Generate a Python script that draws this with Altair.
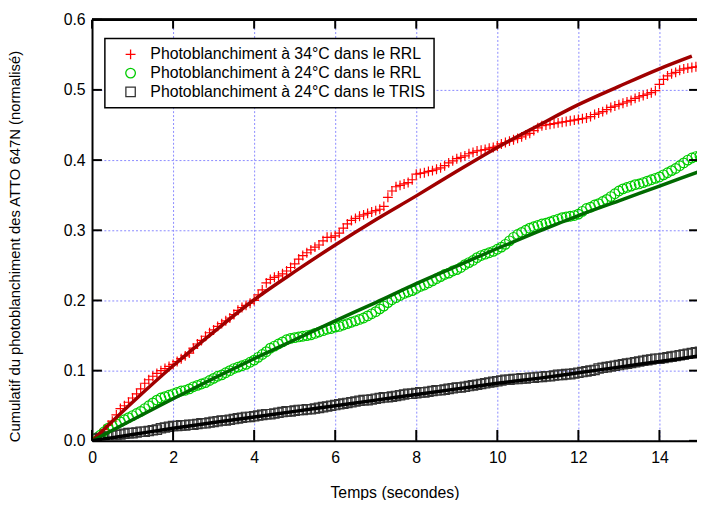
import altair as alt
import pandas as pd

FONT = "Liberation Sans"

SERIES = [
    "Photoblanchiment à 34°C dans le RRL",
    "Photoblanchiment à 24°C dans le RRL",
    "Photoblanchiment à 24°C dans le TRIS",
]

# sampling times of the measured points (s)
t_vals = [round(i * 0.1, 1) for i in range(151)]

red_vals = [
    0.000, 0.005, 0.010, 0.016, 0.022, 0.028, 0.037, 0.046, 0.050, 0.055,
    0.061, 0.067, 0.074, 0.082, 0.087, 0.092, 0.096, 0.100, 0.103, 0.106,
    0.109, 0.113, 0.117, 0.121, 0.125, 0.132, 0.138, 0.143, 0.149, 0.154,
    0.158, 0.163, 0.167, 0.171, 0.175, 0.180, 0.186, 0.190, 0.193, 0.196,
    0.200, 0.208, 0.215, 0.225, 0.230, 0.233, 0.235, 0.238, 0.242, 0.247,
    0.252, 0.259, 0.264, 0.268, 0.272, 0.276, 0.279, 0.285, 0.290, 0.290,
    0.292, 0.296, 0.303, 0.309, 0.314, 0.317, 0.320, 0.322, 0.324, 0.326,
    0.328, 0.330, 0.334, 0.347, 0.356, 0.362, 0.364, 0.366, 0.368, 0.372,
    0.380, 0.381, 0.382, 0.384, 0.385, 0.387, 0.389, 0.392, 0.396, 0.399,
    0.402, 0.404, 0.406, 0.409, 0.411, 0.413, 0.414, 0.415, 0.417, 0.418,
    0.420, 0.423, 0.425, 0.427, 0.429, 0.431, 0.433, 0.436, 0.438, 0.442,
    0.446, 0.449, 0.450, 0.451, 0.452, 0.453, 0.454, 0.455, 0.456, 0.457,
    0.458, 0.459, 0.460, 0.462, 0.465, 0.467, 0.469, 0.472, 0.475, 0.477,
    0.479, 0.481, 0.483, 0.485, 0.488, 0.490, 0.492, 0.494, 0.496, 0.499,
    0.508, 0.515, 0.520, 0.523, 0.525, 0.528, 0.530, 0.531, 0.532, 0.533,
    0.534,
]

green_vals = [
    0.000, 0.004, 0.008, 0.013, 0.018, 0.021, 0.024, 0.027, 0.030, 0.033,
    0.036, 0.039, 0.042, 0.046, 0.050, 0.054, 0.058, 0.061, 0.063, 0.065,
    0.067, 0.069, 0.071, 0.072, 0.074, 0.077, 0.079, 0.081, 0.083, 0.086,
    0.089, 0.092, 0.094, 0.097, 0.100, 0.103, 0.105, 0.107, 0.109, 0.112,
    0.115, 0.119, 0.123, 0.127, 0.132, 0.135, 0.138, 0.141, 0.144, 0.146,
    0.147, 0.148, 0.149, 0.150, 0.151, 0.153, 0.155, 0.157, 0.159, 0.160,
    0.162, 0.163, 0.165, 0.167, 0.169, 0.171, 0.173, 0.175, 0.178, 0.181,
    0.184, 0.188, 0.192, 0.197, 0.201, 0.204, 0.207, 0.210, 0.212, 0.214,
    0.217, 0.220, 0.222, 0.225, 0.228, 0.231, 0.234, 0.237, 0.239, 0.242,
    0.244, 0.247, 0.251, 0.254, 0.257, 0.261, 0.264, 0.266, 0.268, 0.270,
    0.273, 0.276, 0.280, 0.285, 0.290, 0.294, 0.297, 0.300, 0.303, 0.305,
    0.307, 0.309, 0.310, 0.312, 0.314, 0.316, 0.318, 0.319, 0.320, 0.321,
    0.323, 0.327, 0.331, 0.333, 0.336, 0.338, 0.341, 0.344, 0.348, 0.352,
    0.356, 0.359, 0.361, 0.363, 0.365, 0.366, 0.368, 0.370, 0.372, 0.374,
    0.376, 0.379, 0.382, 0.385, 0.388, 0.392, 0.396, 0.400, 0.403, 0.405,
    0.406,
]

black_vals = [
    0.002, 0.003, 0.004, 0.005, 0.006, 0.007, 0.008, 0.009, 0.010, 0.011,
    0.011, 0.012, 0.013, 0.013, 0.014, 0.015, 0.016, 0.018, 0.019, 0.020,
    0.021, 0.021, 0.022, 0.022, 0.023, 0.023, 0.024, 0.025, 0.025, 0.026,
    0.027, 0.028, 0.029, 0.029, 0.030, 0.031, 0.032, 0.033, 0.034, 0.034,
    0.035, 0.036, 0.037, 0.038, 0.038, 0.039, 0.040, 0.041, 0.042, 0.042,
    0.043, 0.044, 0.044, 0.045, 0.045, 0.046, 0.047, 0.048, 0.049, 0.050,
    0.051, 0.052, 0.053, 0.054, 0.055, 0.056, 0.057, 0.058, 0.058, 0.059,
    0.060, 0.061, 0.062, 0.062, 0.063, 0.064, 0.065, 0.066, 0.067, 0.067,
    0.068, 0.069, 0.069, 0.070, 0.071, 0.072, 0.072, 0.073, 0.074, 0.075,
    0.076, 0.076, 0.077, 0.078, 0.079, 0.080, 0.081, 0.082, 0.083, 0.084,
    0.085, 0.086, 0.087, 0.087, 0.088, 0.088, 0.089, 0.089, 0.090, 0.090,
    0.091, 0.091, 0.092, 0.092, 0.093, 0.094, 0.094, 0.095, 0.095, 0.096,
    0.097, 0.098, 0.099, 0.100, 0.101, 0.103, 0.104, 0.105, 0.106, 0.107,
    0.108, 0.109, 0.110, 0.111, 0.112, 0.113, 0.114, 0.115, 0.116, 0.117,
    0.117, 0.118, 0.119, 0.120, 0.121, 0.122, 0.123, 0.124, 0.125, 0.126,
    0.127,
]

# fitted curves (read at a few times)
red_fit_t = [0, 1, 2, 3, 4, 5, 6, 7, 8, 9, 10, 11, 12, 13, 14, 14.8]
red_fit_v = [0.0, 0.055, 0.107, 0.155, 0.201, 0.241, 0.279, 0.315, 0.349,
             0.384, 0.418, 0.449, 0.479, 0.505, 0.530, 0.548]
green_fit_t = [0, 1, 2, 3, 4, 5, 6, 7, 8, 9, 10, 11, 12, 13, 14, 15]
green_fit_v = [0.0, 0.030, 0.060, 0.089, 0.117, 0.144, 0.171, 0.197, 0.224,
               0.249, 0.274, 0.298, 0.321, 0.342, 0.363, 0.384]
black_fit_t = [0, 1, 2, 3, 4, 5, 6, 7, 8, 9, 10, 11, 12, 13, 14, 15]
black_fit_v = [0.0, 0.009, 0.018, 0.026, 0.034, 0.042, 0.050, 0.058, 0.066,
               0.074, 0.082, 0.089, 0.097, 0.105, 0.113, 0.121]

x_ticks = [0, 2, 4, 6, 8, 10, 12, 14]
y_ticks = [0.0, 0.1, 0.2, 0.3, 0.4, 0.5, 0.6]

marker_colors = ["#ff0000", "#00cc00", "#333333"]
marker_shapes = ["M-1,0L1,0M0,-1L0,1", "circle", "square"]
marker_sizes = [100, 90, 45]
fit_colors = ["#a00000", "#006a00", "#000000"]

W, H = 612, 426

pts = pd.concat([
    pd.DataFrame({"t": t_vals, "v": vals, "series": name})
    for vals, name in zip([red_vals, green_vals, black_vals], SERIES)
], ignore_index=True)

fits = [
    pd.DataFrame({"t": red_fit_t, "v": red_fit_v}),
    pd.DataFrame({"t": green_fit_t, "v": green_fit_v}),
    pd.DataFrame({"t": black_fit_t, "v": black_fit_v}),
]

xscale = alt.Scale(domain=[0, 14.927], nice=False, zero=False)
yscale = alt.Scale(domain=[0, 0.6], nice=False)

GRID = "#8a8aff"

xaxis = alt.Axis(
    values=x_ticks, format="d", title="Temps (secondes)",
    grid=True, gridColor=GRID, gridDash=[2, 2], gridWidth=1,
    domainColor="black", domainWidth=2, ticks=False,
    labelFont=FONT, labelFontSize=16, labelColor="black", labelPadding=9,
    labelFlush=False, labelOverlap=False,
    titleFont=FONT, titleFontSize=16, titleFontWeight="normal", titleColor="black",
    titleX=306, titleY=52, titleBaseline="middle",
)
yaxis = alt.Axis(
    values=y_ticks, format=".1f",
    title="Cumulatif du photoblanchiment des ATTO 647N (normalisé)",
    grid=True, gridColor=GRID, gridDash=[2, 2], gridWidth=1,
    domainColor="black", domainWidth=2, ticks=False,
    labelFont=FONT, labelFontSize=16, labelColor="black", labelPadding=7,
    labelFlush=False, labelOverlap=False,
    titleFont=FONT, titleFontSize=15, titleFontWeight="normal", titleColor="black",
    titleX=-78, titleY=229, titleBaseline="middle",
)

leg = alt.Legend(
    title=None, orient="none", legendX=13, legendY=19, padding=8,
    strokeColor="black", fillColor="white",
    labelFont=FONT, labelFontSize=16, labelColor="black", labelLimit=500,
    symbolSize=80, symbolStrokeWidth=1.3, symbolOffset=10, labelOffset=12,
    rowPadding=3,
)

points = alt.Chart(pts).mark_point(filled=False, strokeWidth=1.2, clip=True, opacity=1).encode(
    x=alt.X("t:Q", scale=xscale, axis=xaxis),
    y=alt.Y("v:Q", scale=yscale, axis=yaxis),
    color=alt.Color("series:N", scale=alt.Scale(domain=SERIES, range=marker_colors), legend=leg),
    shape=alt.Shape("series:N", scale=alt.Scale(domain=SERIES, range=marker_shapes), legend=leg),
    size=alt.Size("series:N", scale=alt.Scale(domain=SERIES, range=marker_sizes), legend=None),
)

layers = [points]
for df, col in zip(fits, fit_colors):
    layers.append(
        alt.Chart(df).mark_line(strokeWidth=3.5, clip=True, interpolate="monotone", color=col).encode(
            x=alt.X("t:Q", scale=xscale, axis=xaxis),
            y=alt.Y("v:Q", scale=yscale, axis=yaxis),
        )
    )

ytick_df = pd.DataFrame({"v": y_ticks})
xtick_df = pd.DataFrame({"t": x_ticks})

layers.append(alt.Chart(ytick_df).mark_rule(color="black", strokeWidth=2).encode(
    y=alt.Y("v:Q", scale=yscale, axis=yaxis), x=alt.value(0), x2=alt.value(10)))
layers.append(alt.Chart(ytick_df).mark_rule(color="black", strokeWidth=2).encode(
    y=alt.Y("v:Q", scale=yscale, axis=yaxis), x=alt.value(W - 8), x2=alt.value(W)))
layers.append(alt.Chart(xtick_df).mark_rule(color="black", strokeWidth=2).encode(
    x=alt.X("t:Q", scale=xscale, axis=xaxis), y=alt.value(H), y2=alt.value(H - 11)))
layers.append(alt.Chart(xtick_df).mark_rule(color="black", strokeWidth=2).encode(
    x=alt.X("t:Q", scale=xscale, axis=xaxis), y=alt.value(0), y2=alt.value(9)))
layers.append(alt.Chart(ytick_df).mark_rule(color="black", strokeWidth=2).encode(
    x=alt.value(0), x2=alt.value(W), y=alt.value(0)))

chart = alt.layer(*layers).properties(
    width=W, height=H,
    autosize=alt.AutoSizeParams(type="none"),
    padding={"left": 85, "top": 9, "right": 0, "bottom": 57},
    background="white",
).configure_view(stroke=None).configure_legend(strokeWidth=1.5)

chart.save("out.html", embed_options={"renderer": "svg", "actions": False})
